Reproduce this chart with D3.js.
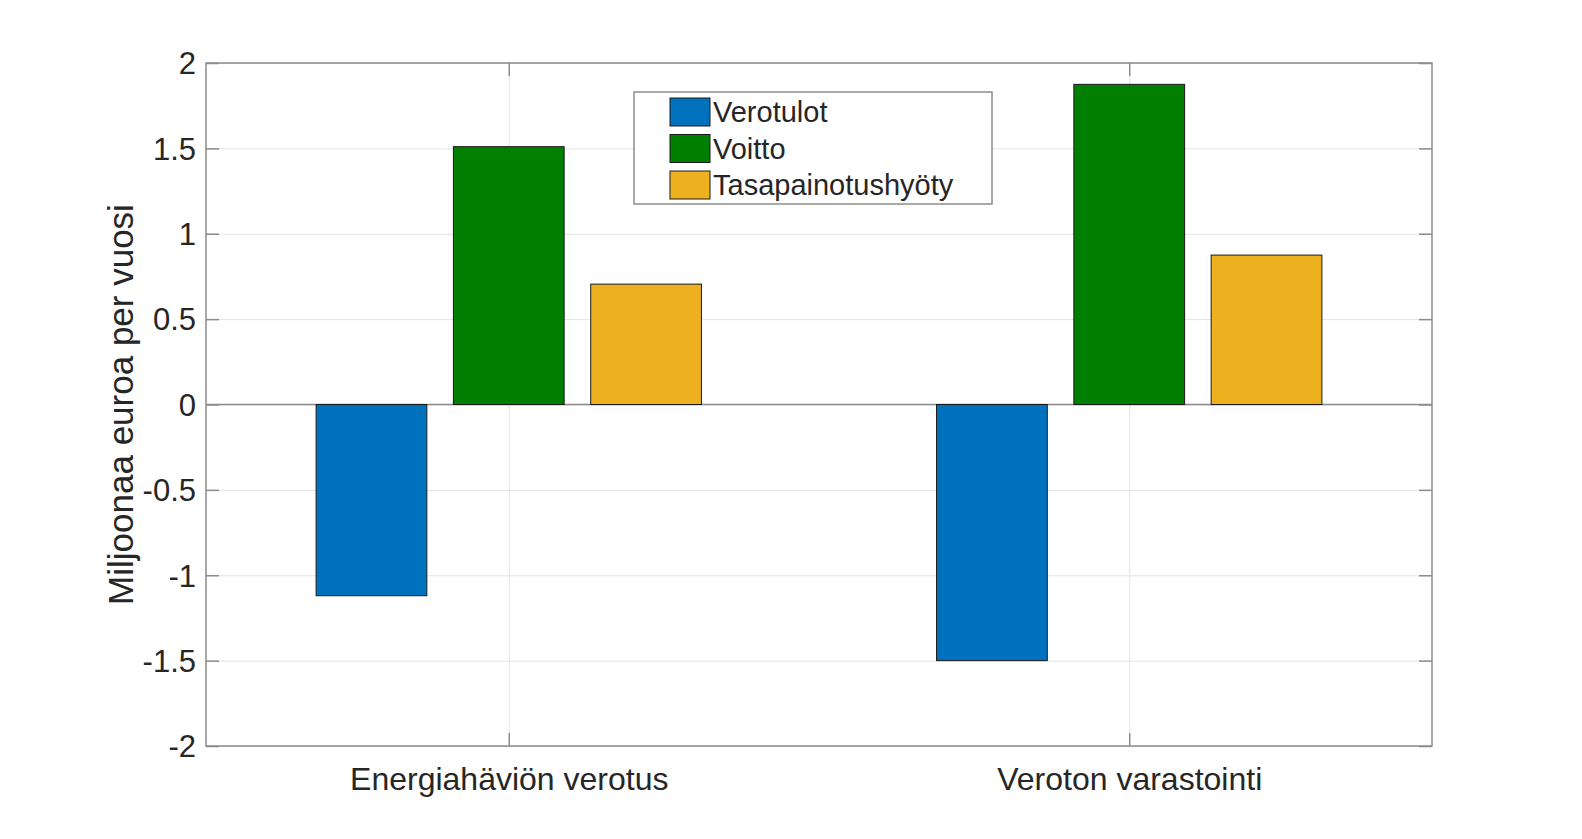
<!DOCTYPE html>
<html lang="fi">
<head>
<meta charset="UTF-8">
<title>Verotus ja varastointi</title>
<script src="https://cdn.jsdelivr.net/npm/d3@7"></script>
<style>
  body { margin: 0; background: #fff; }
  text { font-family: "Liberation Sans", Arial, Helvetica, sans-serif; fill: #262626; }
</style>
</head>
<body>
<svg width="1582" height="839"></svg>
<script>
var categories = ["Energiahäviön verotus", "Veroton varastointi"];
var seriesNames = ["Verotulot", "Voitto", "Tasapainotushyöty"];
var verotulot = [-1.12, -1.50];
var voitto = [1.51, 1.875];
var tasapainotus = [0.705, 0.875];
var yTicks = [-2, -1.5, -1, -0.5, 0, 0.5, 1, 1.5, 2];
var yTickLabels = ["-2", "-1.5", "-1", "-0.5", "0", "0.5", "1", "1.5", "2"];
var colors = ["#0072BD", "#007F00", "#EDB120"];

var margin = {left: 206, top: 63},
    width = 1226, height = 683;

var svg = d3.select("svg");
svg.append("rect").attr("width", 1582).attr("height", 839).attr("fill", "#fff");
var g = svg.append("g").attr("transform", "translate(" + margin.left + "," + margin.top + ")");

// scales
var x = d3.scaleLinear().domain([0.512, 2.488]).range([0, width]);
var y = d3.scaleLinear().domain([-2, 2]).range([height, 0]);

var series = [verotulot, voitto, tasapainotus];
var offsets = [-0.2213, 0, 0.2213];
var barW = 0.1785;

// grid
g.append("g")
    .call(d3.axisLeft(y).tickValues(yTicks).tickSize(-width).tickFormat(""))
    .call(function(s) {
        s.select(".domain").remove();
        s.selectAll("line").attr("stroke", "#e3e3e3").attr("stroke-width", 1);
    });
g.append("g")
    .call(d3.axisBottom(x).tickValues([1, 2]).tickSize(height).tickFormat(""))
    .call(function(s) {
        s.select(".domain").remove();
        s.selectAll("line").attr("stroke", "#e3e3e3").attr("stroke-width", 1);
    });

// baseline
g.append("line")
    .attr("x1", 0).attr("x2", width)
    .attr("y1", y(0)).attr("y2", y(0))
    .attr("stroke", "#8c8c8c").attr("stroke-width", 1.5);

// bars
var bars = [];
series.forEach(function(vals, si) {
    vals.forEach(function(v, ci) {
        bars.push({s: si, c: ci, v: v});
    });
});
g.selectAll("rect.bar")
    .data(bars)
    .join("rect")
    .attr("class", "bar")
    .attr("x", function(d) { return x(d.c + 1 + offsets[d.s] - barW / 2); })
    .attr("width", function(d) { return x(barW) - x(0); })
    .attr("y", function(d) { return y(Math.max(0, d.v)); })
    .attr("height", function(d) { return Math.abs(y(d.v) - y(0)); })
    .attr("fill", function(d) { return colors[d.s]; })
    .attr("stroke", "#1a1a1a")
    .attr("stroke-width", 1);

// axis box and ticks
var axisColor = "#8c8c8c";
var tl = 13;
g.append("rect")
    .attr("width", width).attr("height", height)
    .attr("fill", "none").attr("stroke", axisColor).attr("stroke-width", 1.5);

g.append("g")
    .call(d3.axisLeft(y).tickValues(yTicks).tickSize(-tl).tickPadding(10)
        .tickFormat(function(d, i) { return yTickLabels[i]; }))
    .call(function(s) {
        s.select(".domain").remove();
        s.selectAll("line").attr("stroke", axisColor).attr("stroke-width", 1.5);
        s.selectAll("text").style("font-size", "31px").attr("fill", "#262626").attr("dy", "0.35em");
    });
g.append("g")
    .attr("transform", "translate(" + width + ",0)")
    .call(d3.axisRight(y).tickValues(yTicks).tickSize(-tl).tickFormat(""))
    .call(function(s) {
        s.select(".domain").remove();
        s.selectAll("line").attr("stroke", axisColor).attr("stroke-width", 1.5);
    });
g.append("g")
    .attr("transform", "translate(0," + height + ")")
    .call(d3.axisBottom(x).tickValues([1, 2]).tickSize(-tl).tickPadding(21)
        .tickFormat(function(d, i) { return categories[i]; }))
    .call(function(s) {
        s.select(".domain").remove();
        s.selectAll("line").attr("stroke", axisColor).attr("stroke-width", 1.5);
        s.selectAll("text").style("font-size", "32px").attr("fill", "#262626").attr("dy", "0.71em");
    });
g.append("g")
    .call(d3.axisTop(x).tickValues([1, 2]).tickSize(-tl).tickFormat(""))
    .call(function(s) {
        s.select(".domain").remove();
        s.selectAll("line").attr("stroke", axisColor).attr("stroke-width", 1.5);
    });

// y label
svg.append("text")
    .attr("transform", "translate(133,404.5) rotate(-90)")
    .attr("text-anchor", "middle")
    .style("font-size", "35px")
    .text("Miljoonaa euroa per vuosi");

// legend
var leg = svg.append("g").attr("transform", "translate(634,92)");
leg.append("rect")
    .attr("width", 358).attr("height", 112)
    .attr("fill", "#fff").attr("stroke", axisColor).attr("stroke-width", 1.5);
var items = leg.selectAll("g.item")
    .data(seriesNames)
    .join("g")
    .attr("class", "item")
    .attr("transform", function(d, i) { return "translate(36," + (6 + i * 36.5) + ")"; });
items.append("rect")
    .attr("width", 40).attr("height", 28)
    .attr("fill", function(d, i) { return colors[i]; })
    .attr("stroke", "#1a1a1a").attr("stroke-width", 1);
items.append("text")
    .attr("x", 43).attr("y", 14).attr("dy", "0.35em")
    .style("font-size", "29px")
    .attr("fill", "#000")
    .text(function(d) { return d; });
</script>
</body>
</html>
